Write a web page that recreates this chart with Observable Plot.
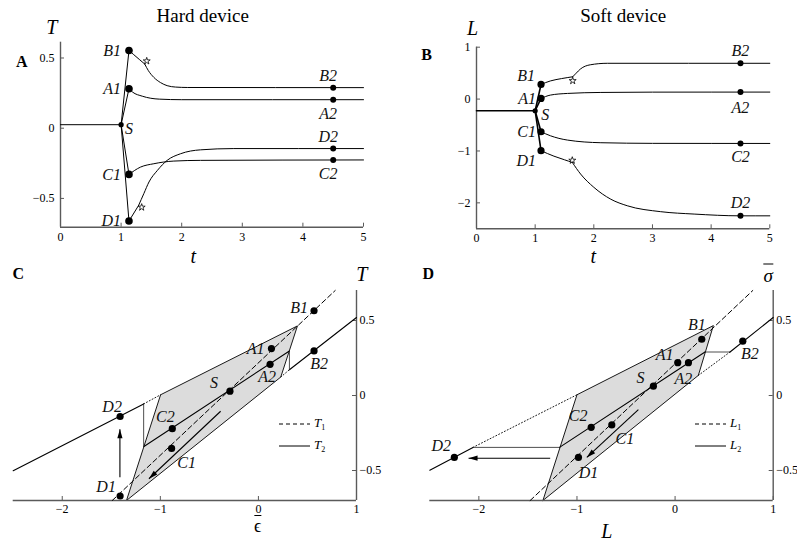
<!DOCTYPE html>
<html><head><meta charset="utf-8">
<script src="https://cdn.jsdelivr.net/npm/d3@7"></script>
<script src="https://cdn.jsdelivr.net/npm/@observablehq/plot@0.6"></script>
<style>
body{margin:0;background:#fff;}
#fig{position:relative;width:797px;height:545px;overflow:hidden;font-family:"Liberation Serif","Times New Roman",serif;color:#000;}
#fig svg{position:absolute;overflow:visible;}
.lab{position:absolute;white-space:nowrap;transform:translate(-50%,-50%);line-height:1;}
.it{font-style:italic;}
.bold{font-weight:bold;}
.bar{display:inline-block;border-top:1.6px solid #000;padding-top:1px;line-height:1;}
</style></head>
<body><div id="fig"></div>
<script>
// ================= DATA =================
// Panel A (hard device): tension T against time t
const timeTicks = [0, 1, 2, 3, 4, 5];
const hardTicks = [-0.5, 0, 0.5];
const hardPrestress = [[0, 0.025], [1, 0.025]];
const hardB = [[1.13, 0.553], [1.2, 0.527], [1.3, 0.49], [1.39, 0.457], [1.45, 0.41], [1.54, 0.362], [1.65, 0.325], [1.76, 0.303], [1.9, 0.293], [2.1, 0.29], [5, 0.289]];
const hardA = [[1.13, 0.281], [1.19, 0.257], [1.35, 0.228], [1.63, 0.207], [2.0, 0.203], [5, 0.203]];
const hardC = [[1.13, -0.329], [1.32, -0.277], [1.54, -0.253], [1.87, -0.234], [2.31, -0.229], [5, -0.226]];
const hardD = [[1.13, -0.661], [1.29, -0.549], [1.375, -0.466], [1.46, -0.383], [1.6, -0.3], [1.76, -0.229], [1.98, -0.182], [2.31, -0.154], [2.86, -0.145], [5, -0.145]];
const hardStars = [["B", 1.39, 0.457], ["D", 1.29, -0.549]];
const hardPoints = [["S", 1, 0.025], ["B1", 1.13, 0.553], ["A1", 1.13, 0.281], ["C1", 1.13, -0.329], ["D1", 1.13, -0.661],
  ["B2", 4.5, 0.289], ["A2", 4.5, 0.203], ["D2", 4.5, -0.145], ["C2", 4.5, -0.226]];

// Panel B (soft device): length L against time t
const softTicks = [-2, -1, 0, 1];
const softPrestress = [[0, -0.225], [1, -0.225]];
const softB = [[1.1, 0.282], [1.26, 0.35], [1.45, 0.395], [1.64, 0.43], [1.7, 0.5], [1.77, 0.578], [1.94, 0.661], [2.23, 0.69], [5, 0.69]];
const softA = [[1.1, 0.012], [1.26, 0.077], [1.55, 0.109], [2.12, 0.128], [3, 0.134], [5, 0.135]];
const softC = [[1.1, -0.63], [1.26, -0.707], [1.55, -0.79], [2.12, -0.841], [3, -0.853], [5, -0.855]];
const softD = [[1.1, -0.995], [1.32, -1.1], [1.5, -1.17], [1.633, -1.22], [1.775, -1.445], [2.0, -1.70], [2.29, -1.93], [2.57, -2.056], [3.14, -2.17], [3.71, -2.216], [4.5, -2.25], [5, -2.25]];
const softStars = [["B", 1.64, 0.43], ["D", 1.633, -1.22]];
const softPoints = [["S", 1, -0.225], ["B1", 1.1, 0.282], ["A1", 1.1, 0.012], ["C1", 1.1, -0.63], ["D1", 1.1, -0.995],
  ["B2", 4.5, 0.69], ["A2", 4.5, 0.135], ["C2", 4.5, -0.855], ["D2", 4.5, -2.25]];

// Panel C (hard device): T against mean strain
const strainTicks = [-2, -1, 0, 1];
const phaseTicks = [-0.5, 0, 0.5];
const cRegion = [[-1.345, -0.7], [-0.997, 0.005], [0.398, 0.464], [0.228, 0.123]];
const cT1 = [[-1.49, -0.7], [0.783, 0.7]];
const cT2 = [
  [[-1.167, -0.34], [0.316, 0.297]],
  [[-2.5, -0.502], [-1.17, -0.056]],
  [[0.316, 0.172], [1, 0.52]]];
const cJumps = [
  [[-1.17, -0.056], [-1.17, -0.34]],
  [[0.316, 0.297], [0.316, 0.172]]];
const cDotted = [
  [[-1.17, -0.056], [-0.997, 0.005]],
  [[0.228, 0.123], [0.316, 0.172]]];
const cArrows = [[-1.412, -0.545, -1.412, -0.225], [-0.385, -0.105, -1.116, -0.555]];
const cPoints = [["B1", 0.567, 0.565], ["A1", 0.133, 0.313], ["A2", 0.119, 0.208], ["B2", 0.567, 0.297], ["S", -0.29, 0.029],
  ["C2", -0.878, -0.221], ["C1", -0.885, -0.353], ["D2", -1.41, -0.14], ["D1", -1.41, -0.67]];

// Panel D (soft device): mean stress against L
const lengthTicks = [-2, -1, 0, 1];
const dRegion = [[-1.347, -0.7], [-1, 0.005], [0.39, 0.466], [0.237, 0.134]];
const dL1 = [[-1.477, -0.7], [0.792, 0.7]];
const dL2 = [
  [[-1.178, -0.346], [0.305, 0.29]],
  [[-2.5, -0.498], [-2.06, -0.346]],
  [[0.56, 0.29], [1, 0.52]]];
const dJumps = [
  [[-2.06, -0.346], [-1.178, -0.346]],
  [[0.305, 0.29], [0.56, 0.29]]];
const dDotted = [
  [[-2.06, -0.346], [-1, 0.005]],
  [[0.237, 0.134], [0.56, 0.29]]];
const dArrows = [[-1.273, -0.418, -2.105, -0.418], [-0.374, -0.094, -0.9, -0.413]];
const dPoints = [["B1", 0.272, 0.375], ["A1", 0.027, 0.219], ["A2", 0.136, 0.219], ["S", -0.221, 0.062], ["C2", -0.855, -0.212],
  ["C1", -0.645, -0.196], ["D1", -0.985, -0.413], ["D2", -2.25, -0.413], ["B2", 0.69, 0.362]];

// ================= DRAWING =================
const fig = document.getElementById("fig");
const serif = '"Liberation Serif","Times New Roman",serif';
const axisGray = "#5a5a5a";
const fmt = d3.format("~g");
const X = d => d[0], Y = d => d[1];
const headSymbol = {draw(c) { c.moveTo(0, 0); c.lineTo(2.6, 9); c.lineTo(-2.6, 9); c.closePath(); }};

function put(svg, left, top) {
  svg.style.left = left + "px";
  svg.style.top = top + "px";
  fig.appendChild(svg);
}
function txt(html, x, y, cls, size) {
  const el = document.createElement("div");
  el.className = "lab " + (cls || "");
  el.style.left = x + "px";
  el.style.top = y + "px";
  el.style.fontSize = size + "px";
  el.innerHTML = html;
  fig.appendChild(el);
}
function labelMarks(points, offs) {
  return points.map(p => {
    const [dx, dy, anchor] = offs[p[0]];
    return Plot.text([p], {x: d => d[1], y: d => d[2], text: d => d[0], dx, dy, textAnchor: anchor,
      fontStyle: "italic", fontSize: 16, fill: "#111"});
  });
}

function timePanel(o) {
  const iw = o.width - o.ml - o.mr, ih = o.height - o.mt - o.mb;
  const S = o.points.find(p => p[0] === "S");
  const jumps = o.points.filter(p => /1$/.test(p[0])).map(p => ({x1: S[1], y1: S[2], x2: p[1], y2: p[2]}));
  const segs = [];
  o.curves.forEach(([name, pts]) => {
    const st = o.stars.find(s => s[0] === name);
    if (st) { segs.push(pts.filter(p => p[0] <= st[1])); segs.push(pts.filter(p => p[0] >= st[1])); }
    else segs.push(pts);
  });
  const first = o.points.filter(p => /1$/.test(p[0]));
  const second = o.points.filter(p => /2$/.test(p[0]));
  return Plot.plot({
    width: o.width, height: o.height,
    marginLeft: o.ml, marginRight: o.mr, marginTop: o.mt, marginBottom: o.mb,
    x: {domain: [0, 5]}, y: {domain: o.yDomain},
    style: {fontFamily: serif, fontSize: "12px", color: "#000", background: "transparent"},
    marks: [
      Plot.ruleX([0], {stroke: axisGray, strokeWidth: 1.4}),
      Plot.ruleY([o.yDomain[0]], {stroke: axisGray, strokeWidth: 1.4}),
      Plot.tickX(timeTicks, {x: d => d, insetTop: ih - 4, stroke: axisGray}),
      Plot.tickY(o.yTicks, {y: d => d, insetRight: iw - 4, stroke: axisGray}),
      Plot.axisX(timeTicks, {tickSize: 0, tickPadding: 5, label: null, tickFormat: fmt}),
      Plot.axisY(o.yTicks, {tickSize: 0, tickPadding: 6, label: null, tickFormat: fmt}),
      Plot.line(o.prestress, {x: X, y: Y, stroke: "#000", strokeWidth: o.preWidth}),
      Plot.link(jumps, {x1: "x1", y1: "y1", x2: "x2", y2: "y2", stroke: "#000", strokeWidth: o.preWidth}),
      ...segs.map(seg => Plot.line(seg, {x: X, y: Y, curve: "monotone-x", stroke: "#000", strokeWidth: 1})),
      ...o.stars.map((s, i) => Plot.dot([s], {x: d => d[1], y: d => d[2], symbol: "star", r: 2.2, fill: "#fff",
        stroke: "#000", strokeWidth: 0.8, dx: o.starOff[i][0], dy: o.starOff[i][1]})),
      Plot.dot([S], {x: d => d[1], y: d => d[2], r: 2.6, fill: "#000"}),
      Plot.dot(first, {x: d => d[1], y: d => d[2], r: o.r1, fill: "#000"}),
      Plot.dot(second, {x: d => d[1], y: d => d[2], r: 3, fill: "#000"}),
      ...labelMarks(o.points, o.labels)
    ]
  });
}

function phasePanel(o) {
  const iw = o.width - o.ml - o.mr, ih = o.height - o.mt - o.mb;
  const yDomain = [-0.7, 0.7], xDomain = [-2.5, 1];
  const xu = iw / (xDomain[1] - xDomain[0]), yu = ih / (yDomain[1] - yDomain[0]);
  const heads = o.arrows.map(a => {
    const dxp = (a[2] - a[0]) * xu, dyp = -(a[3] - a[1]) * yu;
    return {x: a[2], y: a[3], rot: Math.atan2(dxp, -dyp) * 180 / Math.PI};
  });
  return Plot.plot({
    width: o.width, height: o.height,
    marginLeft: o.ml, marginRight: o.mr, marginTop: o.mt, marginBottom: o.mb,
    x: {domain: xDomain}, y: {domain: yDomain},
    style: {fontFamily: serif, fontSize: "12px", color: "#000", background: "transparent"},
    marks: [
      Plot.line([...o.region, o.region[0]], {x: X, y: Y, fill: "#dcdcdc", stroke: "#000", strokeWidth: 0.9}),
      Plot.ruleX([xDomain[1]], {stroke: axisGray, strokeWidth: 1.4}),
      Plot.ruleY([yDomain[0]], {stroke: axisGray, strokeWidth: 1.4}),
      Plot.tickX(o.xTicks, {x: d => d, insetTop: ih - 4, stroke: axisGray}),
      Plot.tickY(phaseTicks, {y: d => d, insetLeft: iw - 4, stroke: axisGray}),
      Plot.axisX(o.xTicks, {tickSize: 0, tickPadding: 4, label: null, tickFormat: fmt}),
      Plot.axisY(phaseTicks, {anchor: "right", tickSize: 0, tickPadding: 3, label: null, tickFormat: fmt}),
      ...o.dotted.map(seg => Plot.line(seg, {x: X, y: Y, stroke: "#000", strokeWidth: 0.9, strokeDasharray: "1,2.2"})),
      Plot.line(o.branch1, {x: X, y: Y, stroke: "#000", strokeWidth: 1, strokeDasharray: "5,3"}),
      ...o.branch2.map(seg => Plot.line(seg, {x: X, y: Y, stroke: "#000", strokeWidth: 1.1})),
      ...o.jumps.map(seg => Plot.line(seg, {x: X, y: Y, stroke: "#222", strokeWidth: 0.8})),
      Plot.link(o.arrows, {x1: d => d[0], y1: d => d[1], x2: d => d[2], y2: d => d[3], stroke: "#000", strokeWidth: 1.1}),
      Plot.dot(heads, {x: "x", y: "y", rotate: "rot", symbol: headSymbol, r: 3, fill: "#000", stroke: "none"}),
      Plot.dot(o.points, {x: d => d[1], y: d => d[2], r: 3.6, fill: "#000"}),
      ...labelMarks(o.points, o.labels)
    ]
  });
}

// Panel A
put(timePanel({
  width: 400, height: 260, ml: 60, mr: 37, mt: 41.7, mb: 33.3,
  yDomain: [-0.705, 0.6125], yTicks: hardTicks, preWidth: 1,
  prestress: hardPrestress,
  curves: [["B", hardB], ["A", hardA], ["C", hardC], ["D", hardD]],
  stars: hardStars, starOff: [[2, -3], [3, 2]],
  points: hardPoints, r1: 3.8,
  labels: {B1: [-8, 0, "end"], A1: [-8, 0, "end"], C1: [-8, 0, "end"], D1: [-8, 0, "end"], S: [4, 4, "start"],
    B2: [-5, -12, "middle"], A2: [-5, 14, "middle"], D2: [-5, -12, "middle"], C2: [-5, 14, "middle"]}
}), 0, 0);

// Panel B
put(timePanel({
  width: 397, height: 260, ml: 76, mr: 27.7, mt: 46.7, mb: 31.7,
  yDomain: [-2.5, 1], yTicks: softTicks, preWidth: 1.6,
  prestress: softPrestress,
  curves: [["B", softB], ["A", softA], ["C", softC], ["D", softD]],
  stars: softStars, starOff: [[0, 4], [0, -2]],
  points: softPoints, r1: 3.6,
  labels: {B1: [-6, -9, "end"], A1: [-5, 0, "end"], C1: [-5, 0, "end"], D1: [-5, 10, "end"], S: [6, 4, "start"],
    B2: [0, -12, "middle"], A2: [0, 16, "middle"], C2: [0, 13, "middle"], D2: [0, -13, "middle"]}
}), 400, 0);

// Panel C
put(phasePanel({
  width: 400, height: 285, ml: 12.7, mr: 44, mt: 30, mb: 45,
  xTicks: strainTicks, region: cRegion, branch1: cT1, branch2: cT2, jumps: cJumps, dotted: cDotted,
  arrows: cArrows, points: cPoints,
  labels: {B1: [-6, -3, "end"], A1: [-7, 0, "end"], A2: [-3, 13, "middle"], B2: [5, 13, "middle"], S: [-16, -8, "middle"],
    C2: [-7, -12, "middle"], C1: [15, 14, "middle"], D2: [-8, -10, "middle"], D1: [-14, -9, "middle"]}
}), 0, 260);

// Panel D
put(phasePanel({
  width: 397, height: 285, ml: 29.3, mr: 24.3, mt: 30, mb: 45,
  xTicks: lengthTicks, region: dRegion, branch1: dL1, branch2: dL2, jumps: dJumps, dotted: dDotted,
  arrows: dArrows, points: dPoints,
  labels: {B1: [-5, -14, "middle"], A1: [-13, -8, "middle"], A2: [-5, 16, "middle"], S: [-13, -8, "middle"],
    C2: [-13, -11, "middle"], C1: [13, 14, "middle"], D1: [10, 15, "middle"], D2: [-13, -12, "middle"], B2: [7, 13, "middle"]}
}), 400, 260);

// Titles, panel letters, axis names
txt("Hard device", 202.7, 15, "", 19);
txt("Soft device", 623.3, 15, "", 19);
txt("A", 21.7, 62, "bold", 16);
txt("B", 426.7, 55, "bold", 16);
txt("C", 18.3, 274, "bold", 16);
txt("D", 428.3, 274, "bold", 16);
txt("T", 51.7, 26.7, "it", 20);
txt("L", 472.5, 27.5, "it", 20);
txt("t", 193.3, 256, "it", 20);
txt("t", 593.3, 256, "it", 20);
txt("T", 361.7, 274, "it", 20);
txt('<span class="bar">&#x03F5;</span>', 257.7, 525, "", 18);
txt('<span class="bar it">&#x03C3;</span>', 768.3, 274, "", 19);
txt("L", 606.7, 531, "it", 20);

// Legends
function legend(x, y, sym) {
  const rows = [["4,3", 0], ["none", 21.7]];
  rows.forEach(([dash, off], i) => {
    const s = document.createElementNS("http://www.w3.org/2000/svg", "svg");
    s.setAttribute("width", 32); s.setAttribute("height", 4);
    s.style.left = x + "px"; s.style.top = (y + off - 2) + "px";
    const l = document.createElementNS("http://www.w3.org/2000/svg", "line");
    l.setAttribute("x1", 0); l.setAttribute("x2", 31); l.setAttribute("y1", 2); l.setAttribute("y2", 2);
    l.setAttribute("stroke", "#000"); l.setAttribute("stroke-width", 1);
    if (dash !== "none") l.setAttribute("stroke-dasharray", dash);
    s.appendChild(l); fig.appendChild(s);
    const t = document.createElement("div");
    t.className = "lab it";
    t.style.transform = "translate(0,-50%)";
    t.style.left = (x + 35) + "px"; t.style.top = (y + off) + "px"; t.style.fontSize = "13px";
    t.innerHTML = sym + '<sub style="font-style:normal;font-size:8px">' + (i + 1) + "</sub>";
    fig.appendChild(t);
  });
}
legend(279, 424.3, "T");
legend(695, 424.3, "L");
</script>
</body></html>
